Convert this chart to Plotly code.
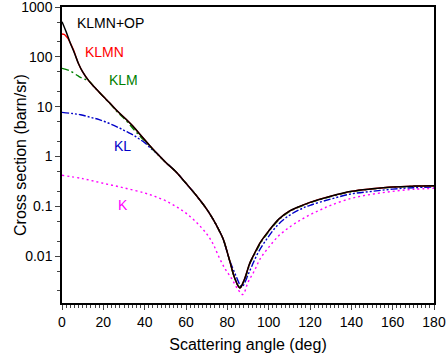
import math
import plotly.graph_objects as go

# ---- data ----
ang_op = [0, 2, 4, 6, 8, 10, 13, 16, 20, 23, 27, 31, 35, 38, 42, 46, 50, 55, 60, 65, 70, 73, 76, 78, 81, 83.5, 86, 88, 91, 93, 96, 100, 105, 110, 115, 120, 130, 140, 150, 160, 170, 180]
klmn_op = [510, 320, 190, 120, 73, 50, 33, 24, 16, 12, 8, 5.6, 3.8, 2.7, 1.75, 1.15, 0.78, 0.5, 0.29, 0.165, 0.088, 0.056, 0.033, 0.022, 0.0085, 0.0037, 0.0023, 0.0032, 0.0075, 0.011, 0.019, 0.032, 0.056, 0.08, 0.10, 0.12, 0.16, 0.2, 0.225, 0.245, 0.255, 0.26]

ang_klmn = [0, 1, 2, 3, 4, 5.5, 8, 10, 13, 16, 20, 23, 27, 31, 35, 38, 42, 46, 50, 55, 60, 65, 70, 73, 76, 78, 81, 83.5, 86, 88, 91, 93, 96, 100, 105, 110, 115, 120, 130, 140, 150, 160, 170, 180]
klmn = [288, 282, 260, 230, 190, 140, 73, 50, 33, 24, 16, 12, 8, 5.6, 3.8, 2.7, 1.75, 1.15, 0.78, 0.5, 0.29, 0.165, 0.088, 0.056, 0.033, 0.022, 0.0085, 0.0037, 0.0023, 0.0032, 0.0075, 0.011, 0.019, 0.032, 0.056, 0.08, 0.10, 0.12, 0.16, 0.2, 0.225, 0.245, 0.255, 0.26]

ang_klm = [0, 4, 8, 10, 13, 16, 20, 23, 27, 31, 35, 38, 42, 46, 50, 55, 60, 65, 70, 73, 76, 78, 81, 83.5, 86, 88, 91, 93, 96, 100, 105, 110, 115, 120, 130, 140, 150, 160, 170, 180]
klm = [59, 52, 41, 37, 33, 24, 16, 11.8, 7.7, 5.3, 3.4, 2.5, 1.7, 1.13, 0.78, 0.5, 0.29, 0.165, 0.088, 0.056, 0.033, 0.022, 0.0085, 0.0037, 0.0024, 0.0031, 0.0072, 0.0105, 0.018, 0.031, 0.054, 0.078, 0.098, 0.118, 0.157, 0.197, 0.222, 0.242, 0.252, 0.258]

ang_kl = [0, 5, 9, 14, 18, 23, 28, 31, 34.5, 37, 40, 43, 46, 50, 55, 60, 65, 70, 73, 76, 78, 81, 84, 86, 87, 88, 90, 92, 95, 100, 105, 110, 115, 120, 130, 140, 150, 160, 170, 180]
kl = [7.7, 7.3, 6.9, 6.1, 5.5, 4.6, 3.7, 3.2, 2.7, 2.3, 1.9, 1.45, 1.15, 0.78, 0.5, 0.29, 0.165, 0.088, 0.056, 0.033, 0.022, 0.0085, 0.0042, 0.0027, 0.0024, 0.0027, 0.0042, 0.0065, 0.012, 0.025, 0.045, 0.066, 0.086, 0.105, 0.14, 0.178, 0.2, 0.222, 0.237, 0.245]

ang_k = [0, 10, 20, 30, 40, 45, 50, 55, 60, 65, 70, 73, 76, 79, 82, 85, 87.5, 90, 93, 96, 100, 105, 110, 115, 120, 125, 130, 140, 150, 160, 170, 180]
k = [0.42, 0.36, 0.29, 0.235, 0.185, 0.158, 0.13, 0.1, 0.073, 0.048, 0.028, 0.018, 0.0095, 0.0055, 0.0036, 0.0022, 0.0017, 0.003, 0.005, 0.009, 0.015, 0.026, 0.038, 0.052, 0.068, 0.085, 0.105, 0.145, 0.175, 0.2, 0.22, 0.23]

labels = ["KLMN+OP", "KLMN", "KLM", "KL", "K"]
label_x = [6.5, 10, 22, 24, 26]
label_y = [480, 126, 34, 1.6, 0.105]

colors = ["#000000", "#ff0000", "#008000", "#0000c8", "#ff00ff"]

fig = go.Figure()
fig.add_trace(go.Scatter(x=ang_k, y=k, mode="lines", line=dict(color=colors[4], width=1.4, dash="2px,3px"), line_shape="spline"))
fig.add_trace(go.Scatter(x=ang_kl, y=kl, mode="lines", line=dict(color=colors[3], width=1.4, dash="7px,2px,2px,2px,2px,2px"), line_shape="spline"))
fig.add_trace(go.Scatter(x=ang_klm, y=klm, mode="lines", line=dict(color=colors[2], width=1.4, dash="7px,3px,2px,3px"), line_shape="spline"))
fig.add_trace(go.Scatter(x=ang_klmn, y=klmn, mode="lines", line=dict(color=colors[1], width=1.4), line_shape="spline"))
fig.add_trace(go.Scatter(x=ang_op, y=klmn_op, mode="lines", line=dict(color=colors[0], width=1.5), line_shape="spline"))

for t, xx, yy, c in zip(labels, label_x, label_y, colors):
    fig.add_annotation(x=xx, y=math.log10(yy), yref="y", xref="x", text=t, showarrow=False,
                       xanchor="left", yanchor="middle", font=dict(color=c, size=14))

# y-axis title as a rotated annotation
fig.add_annotation(x=-0.113, y=0.5, xref="paper", yref="paper", text="Cross section (barn/sr)",
                   textangle=-90, showarrow=False, xanchor="center", yanchor="middle",
                   font=dict(size=16, color="black"))

fig.update_layout(
    width=447, height=356,
    margin=dict(l=62, r=13, t=7, b=53),
    plot_bgcolor="white", paper_bgcolor="white",
    showlegend=False,
    font=dict(family="Liberation Sans, Arial, sans-serif", size=14, color="black"),
)
fig.update_xaxes(
    range=[0, 180], tickvals=[0, 20, 40, 60, 80, 100, 120, 140, 160, 180],
    ticks="outside", ticklen=5, tickwidth=1.2, showgrid=False, zeroline=False,
    showline=True, linecolor="black", linewidth=1.5, mirror=True, automargin=False,
    ticklabeloverflow="allow",
    minor=dict(ticks="outside", ticklen=3, dtick=2, tickwidth=1, showgrid=False),
    title=dict(text="Scattering angle (deg)", font=dict(size=16), standoff=10),
    tickfont=dict(size=14),
)
fig.update_yaxes(
    type="log", range=[-2.94, 3.002],
    tickvals=[0.01, 0.1, 1, 10, 100, 1000], ticktext=["0.01", "0.1", "1", "10", "100", "1000"],
    ticks="outside", ticklen=5, tickwidth=1.2, showgrid=False, zeroline=False,
    showline=True, linecolor="black", linewidth=1.5, mirror=True, automargin=False,
    ticklabeloverflow="allow",
    minor=dict(ticks="outside", ticklen=3, tickwidth=1, showgrid=False),
    tickfont=dict(size=14),
)

fig.write_html("out.html", config={"displayModeBar": False},
               post_script="document.body.style.margin='0';")
